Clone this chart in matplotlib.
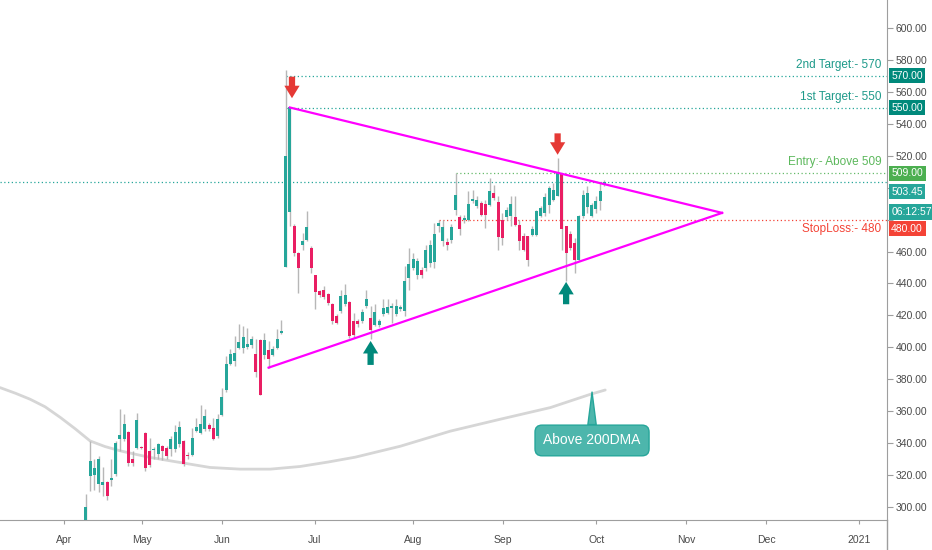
import numpy as np
import matplotlib
matplotlib.use("Agg")
import matplotlib.pyplot as plt
from matplotlib.lines import Line2D

plt.rcParams['font.family'] = ['Liberation Sans', 'DejaVu Sans']

# daily candles (open, high, low, close), bar index = trading day from first bar
opens = [288.0, 319.6, 320.0, 314.4, 314.0, 315.4, 317.1, 320.6, 342.5, 342.5,
         347.3, 329.8, 336.9, 337.7, 346.2, 334.8, 335.8, 333.1, 338.1, 336.7,
         336.2, 336.2, 339.8, 341.2, 332.5, 332.5, 347.5, 346.2, 348.8, 351.5,
         349.2, 344.2, 357.7, 373.1, 389.8, 391.5, 399.4, 399.4, 400.4, 401.5,
         395.6, 404.6, 395.0, 398.3, 395.2, 399.6, 409.0, 450.4, 484.6, 475.8,
         458.8, 464.4, 467.5, 462.3, 445.0, 435.2, 436.2, 433.1, 426.9, 419.6,
         422.7, 426.9, 428.6, 416.4, 416.4, 416.4, 425.8, 418.6, 413.8, 414.0,
         420.6, 421.7, 424.8, 421.1, 424.2, 422.7, 443.6, 449.4, 445.0, 448.3,
         449.8, 452.9, 453.3, 475.8, 466.5, 466.0, 467.1, 486.2, 481.7, 479.6,
         479.6, 491.5, 488.3, 490.4, 490.0, 489.4, 496.7, 490.8, 480.0, 481.7,
         482.5, 481.7, 476.9, 469.6, 470.0, 470.6, 470.6, 482.5, 484.2, 489.4,
         492.0, 495.0, 509.2, 475.8, 471.2, 465.4, 455.0, 482.5, 488.0, 482.5,
         486.7, 491.5, 502.0]
highs = [308.1, 341.5, 330.0, 332.1, 324.8, 316.5, 330.0, 341.5, 361.7, 358.1,
         347.7, 335.2, 358.8, 338.3, 346.7, 343.5, 337.3, 340.4, 338.8, 338.3,
         344.6, 351.2, 354.0, 342.1, 334.2, 349.8, 356.0, 363.8, 361.2, 352.9,
         356.0, 358.1, 374.8, 394.6, 398.8, 407.1, 414.4, 413.3, 412.3, 407.1,
         405.0, 405.4, 409.2, 404.0, 400.8, 411.2, 417.1, 573.8, 550.2, 477.0,
         459.5, 471.7, 485.2, 463.3, 445.6, 436.2, 438.3, 434.0, 428.0, 420.6,
         436.2, 439.8, 429.0, 421.7, 417.5, 424.0, 436.2, 425.8, 426.9, 418.0,
         430.4, 430.0, 427.9, 430.0, 426.5, 450.8, 462.3, 459.2, 456.0, 450.5,
         464.4, 467.0, 477.9, 480.0, 480.0, 468.5, 477.0, 509.2, 483.1, 483.1,
         497.7, 498.8, 494.6, 491.5, 492.5, 506.0, 501.9, 494.6, 484.2, 487.9,
         494.6, 494.6, 480.0, 471.7, 470.0, 475.8, 486.2, 488.8, 496.7, 500.8,
         502.9, 518.5, 509.2, 475.8, 472.7, 468.5, 483.1, 498.8, 500.8, 490.4,
         494.6, 502.9, 505.0]
lows = [286.0, 310.2, 310.8, 309.2, 307.1, 304.6, 313.3, 319.6, 335.2, 341.5,
        325.8, 325.8, 336.2, 336.2, 322.7, 324.8, 330.0, 330.0, 329.6, 330.4,
        332.1, 334.2, 337.3, 325.8, 330.0, 332.1, 346.7, 345.6, 347.7, 347.7,
        341.9, 343.5, 357.1, 372.1, 388.8, 388.3, 398.8, 396.7, 398.8, 399.8,
        381.7, 370.4, 392.5, 387.3, 394.6, 398.8, 408.1, 450.4, 475.8, 457.5,
        433.8, 461.2, 466.5, 446.7, 423.8, 431.7, 430.0, 426.5, 414.4, 414.4,
        421.7, 425.8, 406.0, 406.0, 413.0, 415.4, 424.8, 405.0, 413.3, 412.5,
        419.6, 420.6, 415.4, 419.6, 423.0, 419.6, 436.2, 448.5, 442.5, 443.5,
        447.7, 450.5, 450.0, 472.0, 463.3, 461.2, 465.4, 483.1, 470.6, 478.0,
        479.0, 490.4, 487.3, 482.1, 474.8, 488.3, 492.5, 461.2, 464.4, 480.0,
        475.8, 475.8, 461.2, 460.2, 450.8, 469.6, 469.6, 481.7, 482.1, 484.2,
        491.5, 494.6, 461.2, 441.5, 461.2, 446.7, 454.0, 481.0, 484.2, 481.7,
        484.2, 486.2, 501.0]
closes = [299.8, 329.0, 324.2, 330.4, 315.4, 307.1, 318.5, 340.4, 345.0, 351.9,
          327.5, 327.5, 354.6, 337.1, 324.4, 326.5, 336.2, 339.2, 335.0, 331.7,
          342.5, 346.7, 350.2, 327.1, 331.7, 343.5, 350.2, 351.9, 357.1, 348.8,
          342.5, 355.4, 369.2, 389.4, 395.6, 396.2, 403.3, 406.5, 401.9, 405.0,
          384.6, 370.4, 404.6, 392.9, 398.8, 405.4, 410.0, 519.6, 550.2, 458.8,
          449.8, 466.9, 475.2, 449.8, 434.8, 432.7, 431.7, 427.9, 416.4, 415.4,
          432.1, 432.7, 407.1, 407.5, 414.4, 422.3, 430.0, 410.8, 422.3, 416.2,
          424.4, 425.4, 425.8, 426.2, 425.4, 441.4, 452.5, 455.4, 454.0, 445.4,
          461.2, 464.0, 471.2, 478.0, 475.4, 464.4, 475.4, 495.2, 474.4, 481.0,
          490.0, 493.1, 492.0, 483.1, 483.1, 497.7, 493.6, 469.2, 468.6, 485.8,
          489.6, 476.4, 466.5, 460.8, 455.0, 473.8, 485.2, 487.3, 494.2, 499.8,
          498.3, 509.2, 473.8, 459.2, 462.3, 454.6, 482.5, 495.6, 496.7, 489.4,
          491.5, 497.7, 503.45]

# 200 day moving average
dma_x = [-20.2, -16.6, -13.1, -9.6, -6.0, -2.5, 1.0, 4.5, 8.1, 11.6, 15.1, 22.2,
         29.2, 36.3, 43.4, 50.4, 57.0, 63.4, 74.0, 85.7, 97.5, 109.3, 118.7, 122.2]
dma_y = [374.8, 371.3, 367.5, 362.8, 356.1, 349.0, 341.4, 337.9, 335.2, 333.1,
         331.1, 327.9, 324.8, 323.75, 323.75, 325.4, 328.2, 331.25, 338.1, 347.5,
         355.0, 362.3, 370.6, 373.3]

# triangle (upper and lower trend lines meeting at apex)
tri_upper = [(48, 550.2), (149.7, 484.2)]
tri_lower = [(43, 387.3), (149.7, 484.2)]

# levels: (price, start bar, label)
levels = [(570, 47, '2nd Target:- 570'), (550, 47, '1st Target:- 550'),
          (509, 87, 'Entry:- Above 509'), (480, 83, 'StopLoss:- 480')]
last_price = 503.45

# axis ticks (500 and 480 are covered by the price boxes on the chart)
y_ticks = list(range(300, 601, 20))
y_hidden = [500, 480]
month_pos = [-5.1, 13.2, 32.1, 53.9, 77.0, 98.2, 120.1, 141.3, 160.1, 182.0]
month_lbl = ['Apr', 'May', 'Jun', 'Jul', 'Aug', 'Sep', 'Oct', 'Nov', 'Dec', '2021']

UP = '#26a69a'
DOWN = '#e91e63'
WICK = '#b7b7b7'

fig = plt.figure(figsize=(9.32, 5.5), dpi=100)
ax = fig.add_axes([0, 30 / 550, 887 / 932, 520 / 550])
ax.set_xlim(-20.2, 188.5)
ax.set_ylim(291.9, 617.5)

idx = np.arange(len(opens))
o = np.array(opens); h = np.array(highs); l = np.array(lows); c = np.array(closes)
up = c >= o
cols = np.where(up, UP, DOWN)

ax.vlines(idx, l, h, color=WICK, lw=1, zorder=2)
body_lo = np.minimum(o, c)
body_h = np.maximum(np.abs(c - o), 0.6)
ax.bar(idx, body_h, bottom=body_lo, width=0.72, color=cols, zorder=3, linewidth=0)

# moving average
ax.plot(dma_x, dma_y, color='#d6d6d6', lw=2, zorder=1, solid_capstyle='round')

# triangle
for seg in (tri_upper, tri_lower):
    xs, ys = zip(*seg)
    ax.plot(xs, ys, color='#ff00ff', lw=1.6, zorder=4)

# horizontal levels
lvl_colors = {570: '#26a69a', 550: '#26a69a', 509: '#66bb6a', 480: '#f44336'}
txt_colors = {570: '#1e9a8a', 550: '#1e9a8a', 509: '#5cb85c', 480: '#f44336'}
for price, start, label in levels:
    ax.hlines(price, start, 188.5, color=lvl_colors[price], lw=0.9,
              linestyles=(0, (1, 2)), zorder=1)
    off = -7 if price == 480 else 8
    ax.annotate(label, xy=(1.0, price), xycoords=('axes fraction', 'data'),
                xytext=(-4, off), textcoords='offset points',
                ha='right', va='center', fontsize=8.5, color=txt_colors[price])
ax.axhline(last_price, color='#26a69a', lw=0.9, linestyle=(0, (1, 2)), zorder=1)

# arrows
def arrow(x, tip, tail, color):
    ax.annotate('', xy=(x, tip), xytext=(x, tail),
                arrowprops=dict(arrowstyle='simple,head_width=1.1,head_length=0.9,tail_width=0.45',
                                fc=color, ec='none', mutation_scale=10,
                                shrinkA=0, shrinkB=0), zorder=5)

arrow(48.5, 556.0, 569.5, '#e53935')
arrow(111.0, 520.6, 534.0, '#e53935')
arrow(67.0, 404.0, 389.0, '#00897b')
arrow(113.0, 441.0, 427.0, '#00897b')

# callout
ax.annotate('Above 200DMA', xy=(119.1, 372.0), xytext=(119.1, 341.7),
            ha='center', va='center', fontsize=10, color='white',
            bbox=dict(boxstyle='round,pad=0.6,rounding_size=0.5', fc='#4db6ac', ec='#26a69a', lw=1),
            arrowprops=dict(arrowstyle='wedge,tail_width=0.6,shrink_factor=0.5',
                            fc='#4db6ac', ec='#26a69a', lw=1, shrinkA=0, shrinkB=0),
            zorder=6)

# axes styling
for s in ('top', 'left'):
    ax.spines[s].set_visible(False)
ax.spines['right'].set_color('#9e9e9e')
ax.spines['bottom'].set_color('#9e9e9e')
ax.yaxis.tick_right()
ax.set_yticks(y_ticks)
ax.set_yticklabels(['' if v in y_hidden else '%.2f' % v for v in y_ticks])
ax.set_xticks(month_pos)
ax.set_xticklabels(month_lbl)
ax.tick_params(axis='y', length=4, color='#9e9e9e', labelcolor='#4a4a4a',
               labelsize=7.5, pad=2)
ax.tick_params(axis='x', length=3, color='#9e9e9e', labelcolor='#4a4a4a',
               labelsize=7.5, pad=8)
fig.add_artist(Line2D([887 / 932, 887 / 932], [0, 30 / 550], color='#9e9e9e', lw=1))

# price boxes on the right axis
def pbox(price, text, color, dy=0):
    ax.annotate(text, xy=(1.0, price), xycoords=('axes fraction', 'data'),
                xytext=(3, dy), textcoords='offset points', ha='left', va='center',
                fontsize=7.5, color='white', annotation_clip=False, zorder=7,
                bbox=dict(boxstyle='square,pad=0.25', fc=color, ec='none'))

pbox(570, '570.00', '#00897b')
pbox(550, '550.00', '#00897b')
pbox(509, '509.00', '#4caf50')
pbox(last_price, '%.2f' % last_price, '#26a69a', dy=-7)
pbox(last_price, '06:12:57', '#26a69a', dy=-21.5)
pbox(480, '480.00', '#f44336', dy=-6.5)

fig.savefig('out.png', dpi=100)
